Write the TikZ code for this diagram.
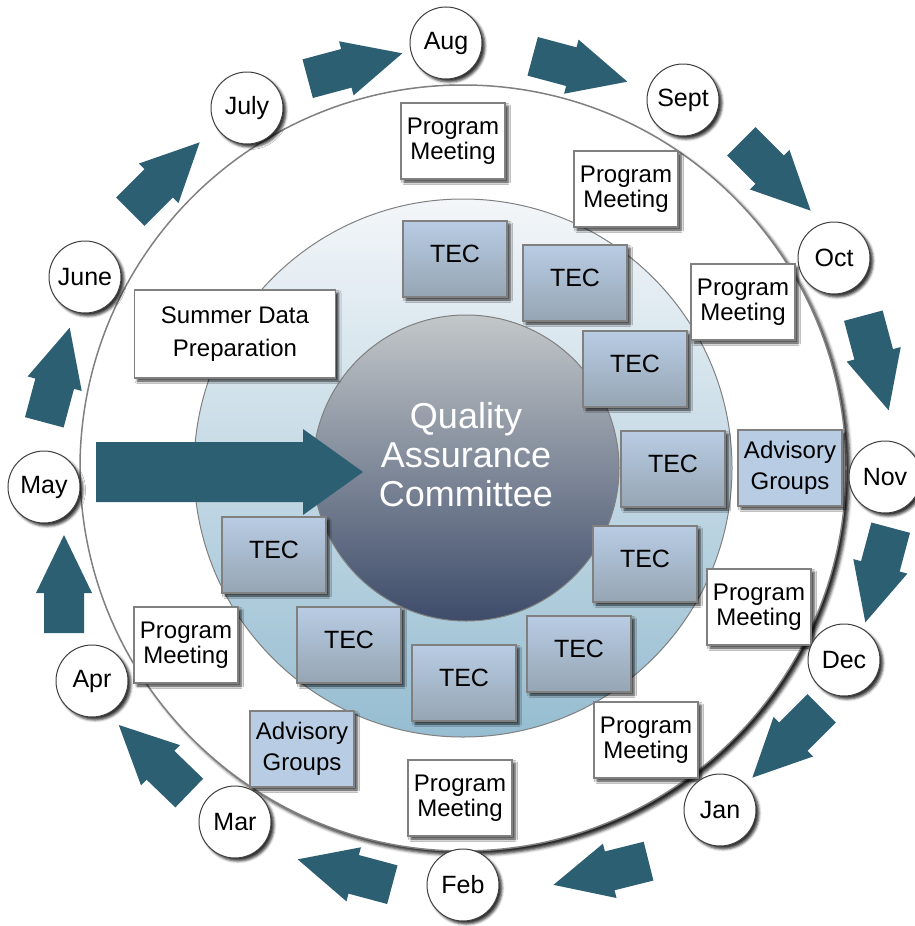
\documentclass[tikz,border=0pt]{standalone}
\usepackage{fontspec}
\setmainfont{Liberation Sans}
\usepackage{tikz}
\usetikzlibrary{shadows.blur}

\definecolor{arrowteal}{RGB}{45,95,115}
\definecolor{tectop}{RGB}{184,204,228}
\definecolor{tecbottom}{RGB}{150,165,179}
\definecolor{ringtop}{RGB}{243,246,249}
\definecolor{ringbottom}{RGB}{150,189,209}
\definecolor{qactop}{RGB}{194,199,201}
\definecolor{qacbottom}{RGB}{62,76,106}
\definecolor{edgegray}{RGB}{128,128,128}

\tikzset{
	dropshade/.style={blur shadow={shadow xshift=3pt, shadow yshift=-3pt, shadow blur radius=2.5pt, shadow opacity=80}},
	planbox/.style={rectangle, draw=edgegray, line width=1.5pt, minimum width=104pt, minimum height=76pt, inner sep=2pt, align=center, font=\fontsize{24}{25}\selectfont, dropshade},
	meeting/.style={planbox, fill=white},
	advisory/.style={planbox, fill=tectop, font=\fontsize{24}{31}\selectfont},
	summer/.style={planbox, fill=white, minimum width=201pt, minimum height=88pt, font=\fontsize{24}{33}\selectfont},
	tec/.style={planbox, top color=tectop, bottom color=tecbottom, text depth=10pt, font=\fontsize{25}{30}\selectfont},
	month/.style={circle, draw=black!75, line width=1pt, fill=white, minimum size=72pt, inner sep=0pt, font=\fontsize{25}{30}\selectfont, dropshade},
	qac/.style={circle, draw=edgegray, line width=1pt, minimum size=306pt, top color=qactop, bottom color=qacbottom, text=white, align=center, text depth=28pt, font=\fontsize{36}{39}\selectfont},
	cyclearrow/.pic={\fill[arrowteal] (-49,-20) -- (-9,-20) -- (-9,-28) -- (49,0) -- (-9,28) -- (-9,20) -- (-49,20) -- cycle;}
}

\begin{document}
\begin{tikzpicture}[x=1pt, y=-1pt]
	\useasboundingbox (0,0) rectangle (914,926);
	% rings
	\draw [edgegray, line width=1.5pt, fill=white, blur shadow={shadow xshift=4pt, shadow yshift=-4pt, shadow blur radius=3pt, shadow opacity=85}] (463,468) circle (383pt);
	\draw [edgegray, line width=1pt, top color=ringtop, bottom color=ringbottom] (463,468) circle (269pt);
	\node (qac) [qac] at (466,468) {Quality\\Assurance\\Committee};
	% committees
	\node (tec1) [tec] at (455,259) {TEC};
	\node (tec2) [tec] at (575,283) {TEC};
	\node (tec3) [tec] at (635,369) {TEC};
	\node (tec4) [tec] at (673,469) {TEC};
	\node (tec5) [tec] at (645,564) {TEC};
	\node (tec6) [tec] at (579,654) {TEC};
	\node (tec7) [tec] at (464,683) {TEC};
	\node (tec8) [tec] at (349,645) {TEC};
	\node (tec9) [tec] at (274,555) {TEC};
	% meetings
	\node (pmaug) [meeting] at (453,141) {Program\\Meeting};
	\node (pmsept) [meeting] at (626,189) {Program\\Meeting};
	\node (pmoct) [meeting] at (743,302) {Program\\Meeting};
	\node (agnov) [advisory] at (790,468) {Advisory\\Groups};
	\node (pmdec) [meeting] at (759,607) {Program\\Meeting};
	\node (pmjan) [meeting] at (646,740) {Program\\Meeting};
	\node (pmfeb) [meeting] at (460,798) {Program\\Meeting};
	\node (agmar) [advisory] at (302,749) {Advisory\\Groups};
	\node (pmapr) [meeting] at (186,645) {Program\\Meeting};
	\node (sdp) [summer] at (235,334) {Summer Data\\Preparation};
	% months
	\node (aug) [month] at (446,43) {Aug};
	\node (sept) [month] at (683,100) {Sept};
	\node (oct) [month] at (834,258) {Oct};
	\node (nov) [month] at (885,477) {Nov};
	\node (dec) [month] at (844,660) {Dec};
	\node (jan) [month] at (720,810) {Jan};
	\node (feb) [month] at (463,885) {Feb};
	\node (mar) [month] at (235,822) {Mar};
	\node (apr) [month] at (92,681) {Apr};
	\node (may) [month] at (44,487) {May};
	\node (june) [month] at (85,277) {June};
	\node (july) [month] at (247,108) {July};
	% May into the committee
	\fill [arrowteal] (96,442) -- (303,442) -- (303,429) -- (363,472) -- (303,515) -- (303,502) -- (96,502) -- cycle;
	% month to month, May->June ... Apr->May
	\foreach \cx/\cy/\ang in {57/375/75, 165/177/45, 355/66/15, 580/69/-15, 776/176/-45, 876/363/-75,
		878/575/-105, 787/743/-135, 601/873/-166, 345/872/165, 154/759/136, 64/584/90}
		\pic [rotate=\ang] at (\cx,\cy) {cyclearrow};
\end{tikzpicture}
\end{document}
